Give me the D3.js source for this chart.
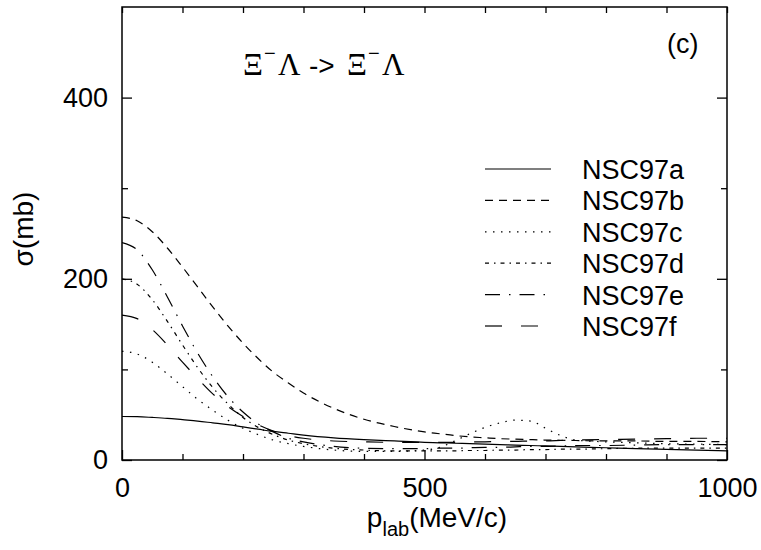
<!DOCTYPE html>
<html><head><meta charset="utf-8">
<script src="https://cdn.jsdelivr.net/npm/d3@7"></script>
<style>body{margin:0;background:#fff}svg{display:block}text{font-family:"Liberation Sans",Arial,sans-serif;fill:#000}</style>
</head><body>
<svg id="c" width="761" height="550"></svg>
<script>
const pLab = [0,25,50,75,100,125,150,175,200,225,250,275,300,350,400,450,500,525,550,575,600,625,650,675,700,725,750,800,850,900,950,1000];
const nsc97a = [48,47.8,47,46,44.5,43,41,39,36.5,34,31.5,29.5,27.5,24.5,22.5,21,19.5,19,18.5,18,17.5,17,16.5,16,15.5,15,14.5,13.5,12.5,11.8,11,10];
const nsc97b = [268,264,252,234,213,191,169,148,129,112,97,85,74,57,45,37,31,29,27,25.5,24.5,23.5,23,22.5,22,21.8,21.5,21,21,20.5,20.5,20];
const nsc97c = [120,117,108,95,81,67,55,44,35,28,22,18,15,11,9.5,9.5,11,14,21,29,36,41,44,43,35,27,22,20,19,18,17.5,17];
const nsc97d = [200,194,177,153,127,102,80,62,47,36,28,22,18,13,11,10,10,10,10,10.5,10.5,11,11,11.5,11.5,12,12,12.5,13,13,13,13];
const nsc97e = [240,232,210,180,148,118,92,70,53,40,31,24,20,15,13,12.5,12.5,13,13,13.5,14,14,14.5,15,15,15.5,16,16,16.5,17,17,17];
const nsc97f = [160,156,144,127,108,90,73,59,48,39,32,27,24,21,20,19.5,19.5,19.5,19.5,20,20,20.5,20.5,21,21,21.5,22,22.5,23,23.5,24,24];
const seriesNames = ["NSC97a","NSC97b","NSC97c","NSC97d","NSC97e","NSC97f"];
const seriesValues = [nsc97a,nsc97b,nsc97c,nsc97d,nsc97e,nsc97f];
const dashes = [null,"8,6","1.5,6.5","4,5,1.5,5","15,9,1.5,9","17,19"];
const xMajor = [0,500,1000];
const xMinor = [100,200,300,400,600,700,800,900];
const yMajor = [0,200,400];
const yMinor = [100,300];

const svg = d3.select("#c");
const L=122,R=727,T=7,B=460;
const x = d3.scaleLinear().domain([0,1000]).range([L,R]);
const y = d3.scaleLinear().domain([0,500]).range([B,T]);

// curves
svg.append("clipPath").attr("id","clp").append("rect").attr("x",L).attr("y",T).attr("width",R-L).attr("height",B-T);
const g = svg.append("g").attr("clip-path","url(#clp)");
seriesValues.forEach((vals,i)=>{
  const pts = pLab.map((p,j)=>[p,vals[j]]);
  g.append("path").datum(pts)
   .attr("d", d3.line().x(d=>x(d[0])).y(d=>y(d[1])).curve(d3.curveMonotoneX))
   .attr("fill","none").attr("stroke","#000").attr("stroke-width",1.2)
   .attr("stroke-dasharray",dashes[i]);
});

// axes
svg.append("g").attr("transform",`translate(0,${B})`)
  .call(d3.axisBottom(x).tickValues(xMajor).tickSize(-10).tickPadding(18).tickFormat(d3.format("d")));
svg.append("g").attr("transform",`translate(0,${B})`).call(d3.axisBottom(x).tickValues(xMinor).tickSize(-6).tickFormat(""));
svg.append("g").attr("transform",`translate(0,${T})`).call(d3.axisTop(x).tickValues(xMajor.concat(xMinor)).tickSize(-6).tickFormat(""));
svg.append("g").attr("transform",`translate(${L},0)`)
  .call(d3.axisLeft(y).tickValues(yMajor).tickSize(-10).tickPadding(14).tickFormat(d3.format("d")));
svg.append("g").attr("transform",`translate(${L},0)`).call(d3.axisLeft(y).tickValues(yMinor).tickSize(-6).tickFormat(""));
svg.append("g").attr("transform",`translate(${R},0)`).call(d3.axisRight(y).tickValues(yMajor).tickSize(-10).tickFormat(""));
svg.append("g").attr("transform",`translate(${R},0)`).call(d3.axisRight(y).tickValues(yMinor).tickSize(-6).tickFormat(""));
svg.selectAll(".domain").remove();
svg.selectAll(".tick line").attr("stroke","#000").attr("stroke-width",1.3);
svg.selectAll(".tick text").style("font-size","27px").style("font-family","Liberation Sans, Arial, sans-serif");
svg.append("rect").attr("x",L).attr("y",T).attr("width",R-L).attr("height",B-T)
  .attr("fill","none").attr("stroke","#000").attr("stroke-width",1.5);

// axis titles
const xt = svg.append("text").attr("x",437).attr("y",527).attr("text-anchor","middle").style("font-size","28px");
xt.append("tspan").text("p");
xt.append("tspan").attr("dy",9).style("font-size","20px").text("lab");
xt.append("tspan").attr("dy",-9).text("(MeV/c)");
svg.append("text").attr("transform","translate(33,229) rotate(-90)").attr("text-anchor","middle").style("font-size","28px").text("σ(mb)");

// title
const serif = "Liberation Serif, Times New Roman, serif";
const titleParts = [
  {t:"Ξ", x:243, y:75, f:serif, s:31},
  {t:"−", x:264, y:60, f:null, s:20},
  {t:"Λ", x:278, y:75, f:serif, s:31},
  {t:"->", x:309, y:75, f:null, s:28},
  {t:"Ξ", x:347, y:75, f:serif, s:31},
  {t:"−", x:368, y:60, f:null, s:20},
  {t:"Λ", x:382, y:75, f:serif, s:31}
];
titleParts.forEach(p=>{
  const tx = svg.append("text").attr("x",p.x).attr("y",p.y).style("font-size",p.s+"px").text(p.t);
  if(p.f) tx.style("font-family",p.f);
});

svg.append("text").attr("x",667).attr("y",53).style("font-size","27px").text("(c)");

// legend
const legY0 = 169, legDy = 31.4;
seriesNames.forEach((n,i)=>{
  const yy = legY0 + i*legDy;
  svg.append("line").attr("x1",485).attr("x2",551).attr("y1",yy).attr("y2",yy)
    .attr("stroke","#000").attr("stroke-width",1.2).attr("stroke-dasharray",dashes[i]);
  svg.append("text").attr("x",582).attr("y",yy+10).style("font-size","27px").text(n);
});
</script>
</body></html>
